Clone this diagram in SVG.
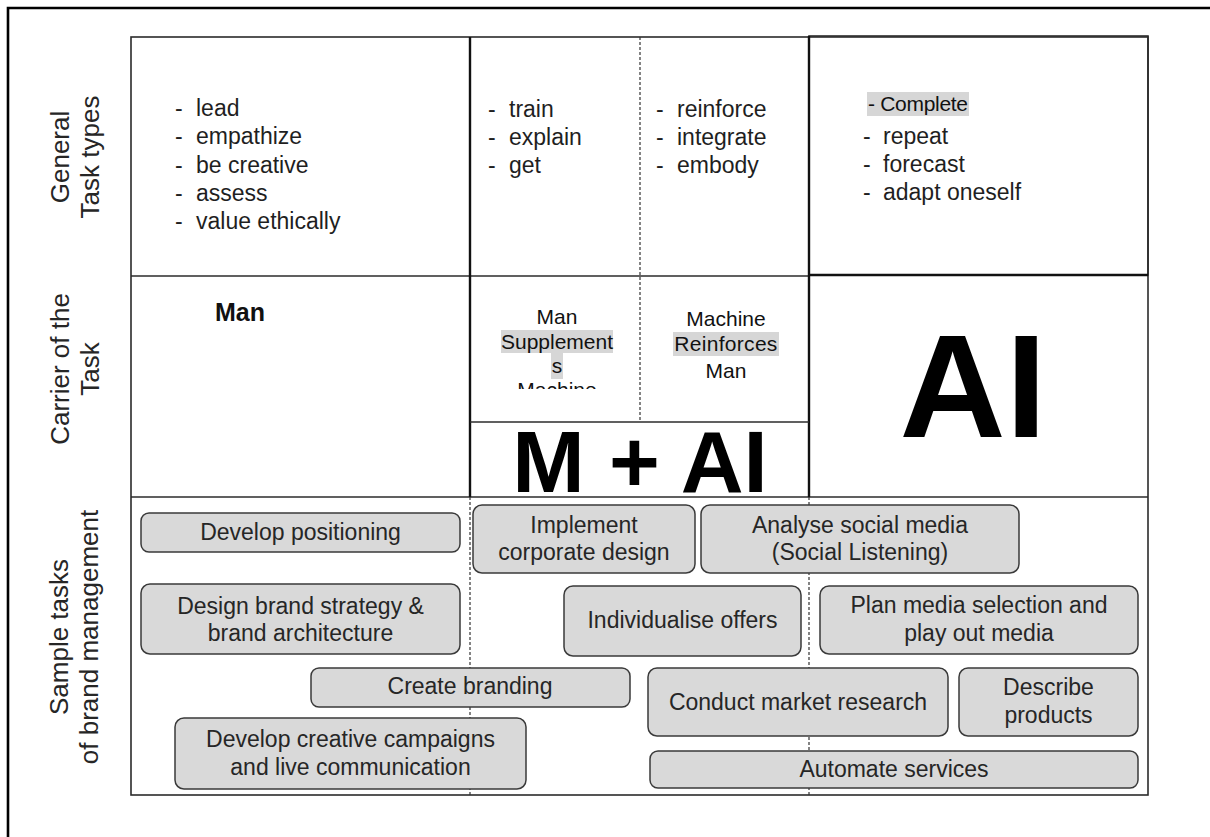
<svg xmlns="http://www.w3.org/2000/svg" width="1210" height="837" viewBox="0 0 1210 837">
  <defs>
    <style>
      .grid { fill: none; stroke: #2b2b2b; stroke-width: 1.6; }
      .thick { fill: none; stroke: #111; stroke-width: 2.4; }
      .dash { fill: none; stroke: #333; stroke-width: 1.2; stroke-dasharray: 3 2; }
      .side { font-family: "Liberation Sans", Arial, sans-serif; font-size: 26px; fill: #262626; text-anchor: middle; }
      .list { font-family: "Liberation Sans", Arial, sans-serif; font-size: 23px; fill: #1f1f1f; }
      .carrier { font-family: "Liberation Sans", Arial, sans-serif; font-size: 21px; fill: #111; text-anchor: middle; }
      .big { font-family: "Liberation Sans", Arial, sans-serif; font-weight: bold; fill: #000; text-anchor: middle; }
      .hl { fill: #d6d6d6; }
      .task rect { fill: #d9d9d9; stroke: #3a3a3a; stroke-width: 1.5; }
      .task text { font-family: "Liberation Sans", Arial, sans-serif; font-size: 23px; fill: #262626; text-anchor: middle; }
    </style>
    <clipPath id="clipSupplement">
      <rect x="471" y="277" width="168" height="112"/>
    </clipPath>
  </defs>

  <rect width="1210" height="837" fill="#fff"/>

  <!-- outer frame running off the right and bottom edges -->
  <path d="M8,837 V8 H1210" fill="none" stroke="#000" stroke-width="2.6"/>

  <!-- matrix lines -->
  <g id="grid">
    <rect class="grid" x="131" y="37" width="1017" height="758"/>
    <line class="grid" x1="131" y1="276" x2="809" y2="276"/>
    <line class="grid" x1="131" y1="497" x2="1148" y2="497"/>
    <rect class="grid" x="809" y="36" width="339" height="239"/>
    <line class="thick" x1="809" y1="275" x2="1148" y2="275"/>
    <line class="thick" x1="470" y1="37" x2="470" y2="497"/>
    <line class="thick" x1="809" y1="36" x2="809" y2="497"/>
    <line class="dash" x1="640" y1="37" x2="640" y2="422"/>
    <line class="grid" x1="470" y1="422" x2="809" y2="422"/>
    <line class="dash" x1="470" y1="497" x2="470" y2="795"/>
    <line class="dash" x1="809" y1="497" x2="809" y2="795"/>
  </g>

  <!-- row headings -->
  <g id="heading-general">
    <text class="side" transform="translate(69,157) rotate(-90)">General</text>
    <text class="side" transform="translate(99,157) rotate(-90)">Task types</text>
  </g>
  <g id="heading-carrier">
    <text class="side" transform="translate(69,369) rotate(-90)">Carrier of the</text>
    <text class="side" transform="translate(99,369) rotate(-90)">Task</text>
  </g>
  <g id="heading-samples">
    <text class="side" transform="translate(68,637) rotate(-90)">Sample tasks</text>
    <text class="side" transform="translate(98,637) rotate(-90)">of brand management</text>
  </g>

  <!-- general task types -->
  <g id="types-man" class="list">
    <text x="175" y="116">-</text><text x="196" y="116">lead</text>
    <text x="175" y="144">-</text><text x="196" y="144">empathize</text>
    <text x="175" y="172.5">-</text><text x="196" y="172.5">be creative</text>
    <text x="175" y="201">-</text><text x="196" y="201">assess</text>
    <text x="175" y="229">-</text><text x="196" y="229">value ethically</text>
  </g>
  <g id="types-supplement" class="list">
    <text x="488" y="116.5">-</text><text x="509" y="116.5">train</text>
    <text x="488" y="144.5">-</text><text x="509" y="144.5">explain</text>
    <text x="488" y="172.5">-</text><text x="509" y="172.5">get</text>
  </g>
  <g id="types-reinforce" class="list">
    <text x="656" y="116.5">-</text><text x="677" y="116.5">reinforce</text>
    <text x="656" y="144.5">-</text><text x="677" y="144.5">integrate</text>
    <text x="656" y="172.5">-</text><text x="677" y="172.5">embody</text>
  </g>
  <g id="types-ai">
    <rect class="hl" x="867" y="92" width="102" height="24"/>
    <text x="868" y="111" font-family="'Liberation Sans', Arial, sans-serif" font-size="21px" letter-spacing="-0.3" fill="#111">- Complete</text>
    <g class="list">
      <text x="863" y="143.5">-</text><text x="883" y="143.5">repeat</text>
      <text x="863" y="171.5">-</text><text x="883" y="171.5">forecast</text>
      <text x="863" y="199.5">-</text><text x="883" y="199.5">adapt oneself</text>
    </g>
  </g>

  <!-- carriers of the task -->
  <g id="carrier-man">
    <text x="215" y="320.5" font-family="'Liberation Sans', Arial, sans-serif" font-weight="bold" font-size="25px" fill="#111">Man</text>
  </g>
  <g id="carrier-supplement" clip-path="url(#clipSupplement)">
    <rect class="hl" x="501" y="330" width="112" height="23"/>
    <rect class="hl" x="551" y="353" width="12" height="26"/>
    <text class="carrier" x="557" y="324">Man</text>
    <text class="carrier" x="557" y="349">Supplement</text>
    <text class="carrier" x="557" y="373">s</text>
    <text class="carrier" x="557" y="397">Machine</text>
  </g>
  <g id="carrier-reinforce">
    <rect class="hl" x="673" y="332" width="106" height="24"/>
    <text class="carrier" x="726" y="326">Machine</text>
    <text class="carrier" x="726" y="351" letter-spacing="0.3">Reinforces</text>
    <text class="carrier" x="726" y="378">Man</text>
  </g>
  <g id="carrier-combined">
    <text class="big" x="640" y="492" font-size="87px">M + AI</text>
  </g>
  <g id="carrier-ai">
    <text class="big" x="973" y="437" font-size="147px">AI</text>
  </g>

  <!-- sample tasks -->
  <g id="task-positioning" class="task">
    <rect x="141" y="513" width="319" height="39" rx="8"/>
    <text x="300.5" y="540">Develop positioning</text>
  </g>
  <g id="task-strategy" class="task">
    <rect x="141" y="584" width="319" height="70" rx="9"/>
    <text x="300.5" y="614">Design brand strategy &amp;</text>
    <text x="300.5" y="641">brand architecture</text>
  </g>
  <g id="task-branding" class="task">
    <rect x="311" y="668" width="319" height="39" rx="8"/>
    <text x="470" y="694">Create branding</text>
  </g>
  <g id="task-campaigns" class="task">
    <rect x="175" y="718" width="351" height="71" rx="9"/>
    <text x="350.5" y="747">Develop creative campaigns</text>
    <text x="350.5" y="775">and live communication</text>
  </g>
  <g id="task-corporate-design" class="task">
    <rect x="473" y="505" width="222" height="68" rx="9"/>
    <text x="584" y="533">Implement</text>
    <text x="584" y="560">corporate design</text>
  </g>
  <g id="task-social" class="task">
    <rect x="701" y="505" width="318" height="68" rx="9"/>
    <text x="860" y="533">Analyse social media</text>
    <text x="860" y="560">(Social Listening)</text>
  </g>
  <g id="task-offers" class="task">
    <rect x="564" y="586" width="237" height="70" rx="9"/>
    <text x="682.5" y="628">Individualise offers</text>
  </g>
  <g id="task-media" class="task">
    <rect x="820" y="586" width="318" height="68" rx="9"/>
    <text x="979" y="613">Plan media selection and</text>
    <text x="979" y="641">play out media</text>
  </g>
  <g id="task-research" class="task">
    <rect x="648" y="668" width="300" height="68" rx="9"/>
    <text x="798" y="710">Conduct market research</text>
  </g>
  <g id="task-products" class="task">
    <rect x="959" y="668" width="179" height="68" rx="9"/>
    <text x="1048.5" y="695">Describe</text>
    <text x="1048.5" y="723">products</text>
  </g>
  <g id="task-services" class="task">
    <rect x="650" y="751" width="488" height="37" rx="8"/>
    <text x="894" y="777">Automate services</text>
  </g>
</svg>
